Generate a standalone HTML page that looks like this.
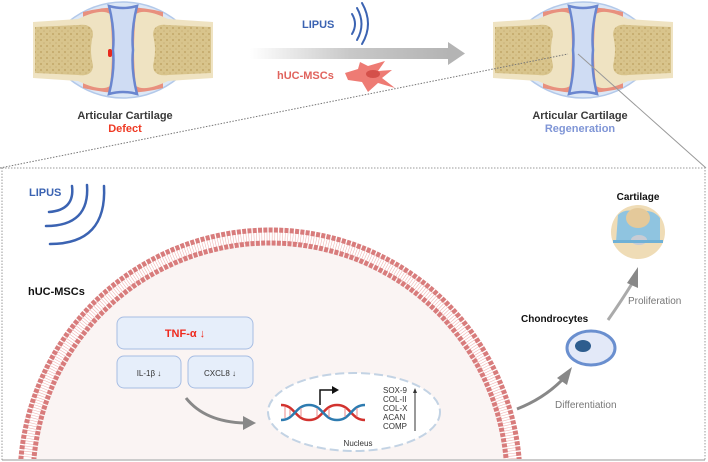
<!DOCTYPE html>
<html><head><meta charset="utf-8"><style>
html,body{margin:0;padding:0;background:#fff;overflow:hidden;width:708px;height:462px}
svg{display:block}
text{font-family:"Liberation Sans",sans-serif}
</style></head><body>
<svg width="708" height="462" viewBox="0 0 708 462" xmlns="http://www.w3.org/2000/svg">
<defs>
<linearGradient id="ga" x1="0" x2="1"><stop offset="0" stop-color="#fff"/><stop offset="0.5" stop-color="#c8c8c8"/><stop offset="1" stop-color="#b4b4b4"/></linearGradient>
<pattern id="sp" width="6" height="6" patternUnits="userSpaceOnUse"><rect width="6" height="6" fill="#d8c48c"/><circle cx="2" cy="2" r="1" fill="#c2a868"/><circle cx="5" cy="5" r="0.8" fill="#c9b177"/></pattern>
<clipPath id="cc"><rect x="0" y="168" width="708" height="291"/></clipPath>
<g id="joint">
  <path d="M-55,-28 Q-30,-48 0,-48 Q30,-48 55,-28 L55,28 Q30,48 0,48 Q-30,48 -55,28Z" fill="#dde8f6" stroke="#b3c9ea" stroke-width="1.5"/>
  <path d="M-40,-38 Q0,-48 40,-38 L40,38 Q0,48 -40,38Z" fill="#e8907e"/>
  <path d="M-90,-28 L-45,-31 Q-22,-42 -13,-36 Q-9,0 -13,36 Q-22,42 -45,31 L-90,28Z" fill="#efe3c2"/>
  <path d="M-88,-23 L-45,-25 Q-30,-27 -30,-15 Q-34,0 -30,15 Q-30,27 -45,25 L-88,23Z" fill="url(#sp)"/>
  <path d="M90,-28 L45,-31 Q22,-42 13,-36 Q9,0 13,36 Q22,42 45,31 L90,28Z" fill="#efe3c2"/>
  <path d="M88,-23 L45,-25 Q30,-27 30,-15 Q34,0 30,15 Q30,27 45,25 L88,23Z" fill="url(#sp)"/>
  <path d="M-14,-44 Q0,-40 14,-44 Q8,-20 10,0 Q8,20 14,44 Q0,40 -14,44 Q-8,20 -10,0 Q-8,-20 -14,-44Z" fill="#cfdcf3" stroke="#6a86cf" stroke-width="2.5"/>
</g>
</defs>

<use href="#joint" x="123" y="50"/>
<rect x="108" y="49" width="4" height="8" rx="2" fill="#e8291c"/>
<use href="#joint" x="583" y="50"/>
<text x="125" y="119" text-anchor="middle" font-size="11" font-weight="bold" fill="#3a3a3a">Articular Cartilage</text>
<text x="125" y="132" text-anchor="middle" font-size="11" font-weight="bold" fill="#ef3a24">Defect</text>
<text x="580" y="119" text-anchor="middle" font-size="11" font-weight="bold" fill="#3a3a3a">Articular Cartilage</text>
<text x="580" y="132" text-anchor="middle" font-size="11" font-weight="bold" fill="#7f95d6">Regeneration</text>

<rect x="250" y="48" width="200" height="11" fill="url(#ga)"/>
<path d="M448,42 L465,53.5 L448,65Z" fill="#b4b4b4"/>
<text x="302" y="28" font-size="11" font-weight="bold" fill="#3b63b2">LIPUS</text>
<g fill="none" stroke="#3b63b2" stroke-width="2" stroke-linecap="round">
<path d="M352,14 Q358,24 352,34"/><path d="M357,8 Q366,24 357,40"/><path d="M362,3 Q374,24 362,44"/></g>
<text x="277" y="79" font-size="11" font-weight="bold" fill="#e0635d">hUC-MSCs</text>
<path d="M345,73 L358,69 L360,62 L368,66 L385,61 L378,71 L392,70 L382,78 L395,88 L378,83 L368,92 L362,82 L348,80Z" fill="#ee7b74"/>
<ellipse cx="373" cy="74" rx="7" ry="4" fill="#d4504a"/>

<line x1="0" y1="168" x2="568" y2="54" stroke="#777" stroke-width="1" stroke-dasharray="1.5,1.5"/>
<line x1="578" y1="54" x2="706" y2="168" stroke="#999" stroke-width="1"/>

<rect x="2" y="168" width="703" height="292" fill="#fff" stroke="#999" stroke-width="1" stroke-dasharray="1.5,1.5"/>

<g clip-path="url(#cc)">
<circle cx="270" cy="480" r="237" fill="#faf4f3"/>
<circle cx="270" cy="480" r="243.5" fill="none" stroke="#f0b7b5" stroke-width="12" stroke-dasharray="0.6,2"/>
<circle cx="270" cy="480" r="250" fill="none" stroke="#d87c7c" stroke-width="5" stroke-dasharray="4,1.3"/>
<circle cx="270" cy="480" r="237" fill="none" stroke="#d87c7c" stroke-width="5" stroke-dasharray="4,1.3"/>
</g>
<line x1="2" y1="460" x2="705" y2="460" stroke="#999" stroke-dasharray="1.5,1.5"/>

<text x="29" y="196" font-size="11" font-weight="bold" fill="#3b63b2">LIPUS</text>
<g fill="none" stroke="#3b63b2" stroke-width="2.5" stroke-linecap="round">
<path d="M72,186 Q75,210 49,212"/><path d="M87,185 Q90,226 46,226"/><path d="M104,186 Q107,244 50,244"/></g>
<text x="28" y="295" font-size="11" font-weight="bold" fill="#111">hUC-MSCs</text>

<g stroke="#a7bde3" stroke-width="1" fill="#e6eefa">
<rect x="117" y="317" width="136" height="32" rx="7"/>
<rect x="117" y="356" width="64" height="32" rx="7"/>
<rect x="188" y="356" width="65" height="32" rx="7"/>
</g>
<text x="185" y="337" text-anchor="middle" font-size="11" font-weight="bold" fill="#ef2a1e">TNF-α ↓</text>
<text x="149" y="376" text-anchor="middle" font-size="8" fill="#333">IL-1β ↓</text>
<text x="220" y="376" text-anchor="middle" font-size="8" fill="#333">CXCL8 ↓</text>

<path d="M186,398 Q205,422 245,423" fill="none" stroke="#888" stroke-width="3"/>
<path d="M243,416 L256,423 L243,430Z" fill="#888"/>

<ellipse cx="354" cy="412" rx="86" ry="39" fill="#fff" stroke="#c3d3e4" stroke-width="2" stroke-dasharray="9,4"/>
<g fill="none" stroke-width="2.5">
<path d="M281,405 C295,405 295,420 309,420 C323,420 323,405 337,405 C351,405 351,420 365,420" stroke="#d2322e"/>
<path d="M281,420 C295,420 295,405 309,405 C323,405 323,420 337,420 C351,420 351,405 365,405" stroke="#2e7bb0"/>
</g>
<g stroke="#e88" stroke-width="1"><line x1="285" y1="407" x2="285" y2="418"/><line x1="290" y1="409" x2="290" y2="416"/><line x1="301" y1="408" x2="301" y2="417"/><line x1="317" y1="408" x2="317" y2="417"/><line x1="329" y1="408" x2="329" y2="417"/><line x1="345" y1="408" x2="345" y2="417"/><line x1="357" y1="408" x2="357" y2="417"/></g>
<path d="M320,405 L320,390 L333,390" fill="none" stroke="#111" stroke-width="1.5"/>
<path d="M332,386 L339,390 L332,394Z" fill="#111"/>
<g font-size="8" fill="#333"><text x="383" y="393">SOX-9</text><text x="383" y="402">COL-II</text><text x="383" y="411">COL-X</text><text x="383" y="420">ACAN</text><text x="383" y="429">COMP</text></g>
<line x1="415" y1="431" x2="415" y2="392" stroke="#333" stroke-width="1"/>
<path d="M413,393 L415,388 L417,393Z" fill="#333"/>
<text x="358" y="446" text-anchor="middle" font-size="8" fill="#333">Nucleus</text>

<path d="M517,409 Q545,398 564,378" fill="none" stroke="#888" stroke-width="3"/>
<path d="M557,378 L572,367 L567,385Z" fill="#888"/>
<text x="555" y="408" font-size="10" fill="#777">Differentiation</text>
<ellipse cx="591" cy="348" rx="24" ry="17" fill="#e3e9f8" stroke="#6a8fcf" stroke-width="3"/>
<ellipse cx="583" cy="346" rx="8" ry="6" fill="#2e5d8e"/>
<text x="521" y="322" font-size="10" font-weight="bold" fill="#111">Chondrocytes</text>
<path d="M608,320 Q622,300 633,282" fill="none" stroke="#aaa" stroke-width="3"/>
<path d="M627,283 L638,267 L638,288Z" fill="#888"/>
<text x="628" y="304" font-size="10" fill="#777">Proliferation</text>
<text x="638" y="200" text-anchor="middle" font-size="10" font-weight="bold" fill="#111">Cartilage</text>
<circle cx="638" cy="232" r="27" fill="#efdcb6"/>
<path d="M618,215 Q625,208 638,212 Q652,208 660,218 L660,242 L616,242Z" fill="#8fc4e0"/>
<ellipse cx="638" cy="218" rx="12" ry="10" fill="#e4c99a"/>
<ellipse cx="639" cy="240" rx="8" ry="5" fill="#c8ccd4"/>
<rect x="613" y="240" width="50" height="3" fill="#6fb1d6"/>
</svg>
</body></html>
